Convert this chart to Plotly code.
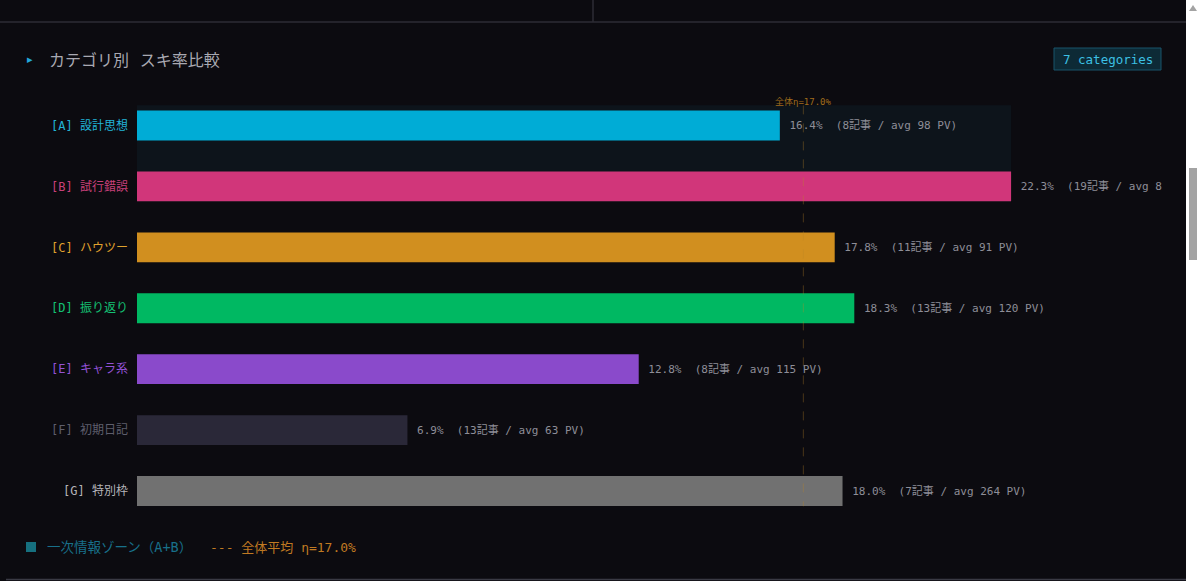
import plotly.graph_objects as go

# data
labels = ["[A] 設計思想", "[B] 試行錯誤", "[C] ハウツー", "[D] 振り返り",
          "[E] キャラ系", "[F] 初期日記", "[G] 特別枠"]
rates = [16.4, 22.3, 17.8, 18.3, 12.8, 6.9, 18.0]
counts = [8, 19, 11, 13, 8, 13, 7]
avg_pv = [98, 84, 91, 120, 115, 63, 264]
bar_colors = ["#00acd6", "#d1367a", "#d18f1f", "#00b862", "#8a4acb", "#2a2838", "#717171"]
label_colors = ["#22b4d8", "#c8407a", "#e0a22e", "#14c274", "#9352d6", "#5e5e6c", "#b4b4b8"]
overall_mean = 17.0
zone_cats = [0, 1]  # A+B

W, H = 1200, 581
BG = "#0c0b10"
MONO = "DejaVu Sans Mono, Noto Sans CJK JP, monospace"


def px(x):
    return x / W


def py(y):
    return 1 - y / H


texts = [f"\u00a0{r:.1f}%\u00a0\u00a0({c}記事 / avg {p} PV)" for r, c, p in zip(rates, counts, avg_pv)]
ticktext = [f'<span style="color:{c}">{l}</span>' for l, c in zip(labels, label_colors)]

fig = go.Figure()
fig.add_trace(go.Bar(
    x=rates,
    y=list(range(len(labels))),
    orientation="h",
    marker=dict(color=bar_colors, line=dict(width=0)),
    width=0.49,
    text=texts,
    textposition="outside",
    textfont=dict(family=MONO, size=11, color="#8e8e98"),
    constraintext="none",
    cliponaxis=True,
    hoverinfo="skip",
))

shapes = []
# primary-info zone behind A and B
shapes.append(dict(type="rect", xref="x", yref="y", layer="below",
                   x0=0, x1=max(rates[i] for i in zone_cats),
                   y0=min(zone_cats) - 0.33, y1=max(zone_cats) + 0.25,
                   fillcolor="#0d141b", line=dict(width=0)))
# overall mean line
shapes.append(dict(type="line", xref="x", yref="y", layer="above",
                   x0=overall_mean, x1=overall_mean, y0=-0.33, y1=len(labels) - 0.75,
                   line=dict(color="rgba(190,135,40,0.35)", width=1, dash="dash")))
# page frame
shapes.append(dict(type="line", xref="paper", yref="paper", x0=0, x1=px(1186), y0=py(22), y1=py(22),
                   line=dict(color="#2c2c35", width=1.5)))
shapes.append(dict(type="line", xref="paper", yref="paper", x0=px(593), x1=px(593), y0=py(0), y1=py(22),
                   line=dict(color="#2c2c35", width=1.5)))
shapes.append(dict(type="line", xref="paper", yref="paper", x0=px(6), x1=px(1186), y0=py(579.5), y1=py(579.5),
                   line=dict(color="#3a3a44", width=1.5)))
# browser scrollbar
shapes.append(dict(type="rect", xref="paper", yref="paper", x0=px(1186), x1=1, y0=0, y1=1,
                   fillcolor="#ffffff", line=dict(width=0)))
shapes.append(dict(type="rect", xref="paper", yref="paper", x0=px(1189), x1=px(1197), y0=py(260), y1=py(168),
                   fillcolor="#a3a3a3", line=dict(width=0)))
shapes.append(dict(type="path", xref="paper", yref="paper",
                   path=f"M {px(1189)} {py(11)} L {px(1197)} {py(11)} L {px(1193)} {py(5)} Z",
                   fillcolor="#a3a3a3", line=dict(width=0)))
# badge
shapes.append(dict(type="rect", xref="paper", yref="paper", x0=px(1054), x1=px(1161), y0=py(70), y1=py(48),
                   fillcolor="#0d2a36", line=dict(color="#19556a", width=1)))
# legend swatch
shapes.append(dict(type="rect", xref="paper", yref="paper", x0=px(26), x1=px(36), y0=py(552), y1=py(542),
                   fillcolor="#16707f", line=dict(width=0)))

annotations = [
    dict(text="▸", x=px(30), y=py(59), xanchor="center", yanchor="middle",
         font=dict(size=11, color="#22a8d8", family="DejaVu Sans")),
    dict(text="カテゴリ別\u00a0\u00a0\u00a0スキ率比較", x=px(47), y=py(59), xanchor="left", yanchor="middle",
         font=dict(size=16, color="#a9a9b2", family="Noto Sans CJK JP")),
    dict(text=f"{len(labels)} categories", x=px(1107.5), y=py(59), xanchor="center", yanchor="middle",
         font=dict(size=12.5, color="#3cc0e4", family=MONO)),
    dict(text=f"全体η={overall_mean:.1f}%", x=overall_mean, xref="x", y=py(101), xanchor="center",
         yanchor="middle", font=dict(size=9, color="#a06c1c", family=MONO)),
    dict(text="一次情報ゾーン（A+B）", x=px(45), y=py(547), xanchor="left", yanchor="middle",
         font=dict(size=13.5, color="#18708a", family=MONO)),
    dict(text=f"--- 全体平均 η={overall_mean:.1f}%", x=px(208), y=py(547), xanchor="left", yanchor="middle",
         font=dict(size=13, color="#c07a22", family=MONO)),
]
for a in annotations:
    a.setdefault("xref", "paper")
    a["yref"] = "paper"
    a["showarrow"] = False

fig.update_layout(
    width=W,
    height=H,
    margin=dict(l=0, r=0, t=0, b=0),
    paper_bgcolor=BG,
    plot_bgcolor=BG,
    showlegend=False,
    shapes=shapes,
    annotations=annotations,
    xaxis=dict(domain=[px(137), px(1162)], range=[0, 26.15], visible=False, fixedrange=True),
    yaxis=dict(domain=[py(521.5), py(95)], range=[len(labels) - 0.5, -0.5],
               tickmode="array", tickvals=list(range(len(labels))), ticktext=ticktext,
               tickfont=dict(family=MONO, size=12), ticks="", ticklabelstandoff=8,
               showgrid=False, zeroline=False, showline=False, fixedrange=True),
)

# drop the default body margin so the figure sits at the window's top-left
fig.write_html("out.html", config={"displayModeBar": False},
               post_script="document.body.style.margin='0';document.body.style.background='#0c0b10';")
